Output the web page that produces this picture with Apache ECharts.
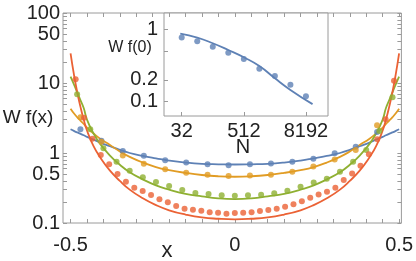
<!DOCTYPE html>
<html><head><meta charset="utf-8">
<script src="https://cdn.jsdelivr.net/npm/echarts@6/dist/echarts.min.js"></script>
<style>html,body{margin:0;padding:0;background:#fff}#c{width:416px;height:261px}</style>
</head><body><div id="c"></div>
<script>
// ---------- data ----------
const blueX   = [-0.470,-0.406,-0.341,-0.277,-0.212,-0.148,-0.083,-0.019,0.046,0.110,0.175,0.239,0.304,0.368,0.433];
const blueY   = [2.18,1.50,1.07,0.91,0.785,0.73,0.69,0.67,0.69,0.71,0.75,0.83,0.99,1.23,2.0];
const orangeX = [-0.470,-0.406,-0.341,-0.277,-0.212,-0.148,-0.083,-0.019,0.046,0.110,0.175,0.239,0.304,0.368,0.433];
const orangeY = [3.24,1.45,0.92,0.70,0.585,0.523,0.49,0.47,0.478,0.49,0.54,0.64,0.81,1.10,2.5];
const greenX  = [-0.48,-0.44,-0.40,-0.36,-0.32,-0.28,-0.24,-0.20,-0.16,-0.12,-0.08,-0.04,0,0.04,0.08,0.12,0.16,0.20,0.24,0.28,0.32,0.36,0.40,0.44,0.48];
const greenY  = [6.9,2.18,1.17,0.75,0.558,0.45,0.385,0.338,0.296,0.268,0.26,0.249,0.245,0.249,0.254,0.266,0.29,0.33,0.38,0.43,0.54,0.75,1.10,2.06,6.25];
const redX    = [-0.4845,-0.459,-0.4335,-0.408,-0.3825,-0.357,-0.3315,-0.306,-0.2805,-0.255,-0.2295,-0.204,-0.1785,-0.153,-0.1275,-0.102,-0.0765,-0.051,-0.0255,0,0.0255,0.051,0.0765,0.102,0.1275,0.153,0.1785,0.204,0.2295,0.255,0.2805,0.306,0.3315,0.357,0.3825,0.408,0.4335,0.459,0.4845];
const redY    = [11.3,3.2,1.6,0.94,0.69,0.50,0.39,0.32,0.287,0.251,0.218,0.198,0.175,0.16,0.155,0.15,0.143,0.14,0.136,0.139,0.14,0.143,0.148,0.153,0.16,0.17,0.185,0.205,0.23,0.255,0.28,0.32,0.41,0.51,0.66,0.96,1.57,3.03,10.8];

// theory curves
const curveX      = [-0.5,-0.49,-0.48,-0.47,-0.46,-0.45,-0.43,-0.41,-0.38,-0.35,-0.32,-0.28,-0.24,-0.2,-0.15,-0.1,-0.05,0,0.05,0.1,0.15,0.2,0.24,0.28,0.32,0.35,0.38,0.41,0.43,0.45,0.46,0.47,0.48,0.49,0.5];
const blueCurve   = [2.18,2.07,1.97,1.88,1.79,1.70,1.55,1.41,1.25,1.11,1.0,0.91,0.84,0.78,0.73,0.70,0.69,0.685,0.69,0.70,0.73,0.78,0.84,0.91,1.0,1.11,1.25,1.41,1.55,1.70,1.79,1.88,1.97,2.07,2.18];
const orangeCurve = [4.3,3.7,3.25,2.9,2.6,2.3,1.9,1.6,1.3,1.05,0.88,0.73,0.63,0.57,0.52,0.485,0.465,0.458,0.465,0.485,0.52,0.57,0.63,0.73,0.88,1.05,1.3,1.6,1.9,2.3,2.6,2.9,3.25,3.7,4.3];
const greenCurve  = [12.3,9.6,7.4,5.7,4.4,3.0,1.9,1.35,0.92,0.68,0.53,0.42,0.345,0.3,0.26,0.24,0.225,0.22,0.225,0.24,0.26,0.3,0.345,0.42,0.53,0.68,0.92,1.35,1.9,3.0,4.4,5.7,7.4,9.6,12.3];
const redCurve    = [26.6,13.5,7.5,4.6,3.0,2.1,1.25,0.87,0.56,0.4,0.3,0.225,0.18,0.152,0.132,0.12,0.115,0.113,0.115,0.12,0.132,0.152,0.18,0.225,0.3,0.4,0.56,0.87,1.25,2.1,3.0,4.6,7.5,13.5,26.6];

// inset: W f(0) versus N
const insetN      = [32,64,128,256,512,1024,2048,4096,8192];
const insetY      = [0.77,0.686,0.577,0.476,0.389,0.286,0.226,0.171,0.118];
const insetCurveN = [30,64,128,256,512,1024,2048,4096,11000];
const insetCurveY = [0.875,0.77,0.643,0.519,0.411,0.311,0.21,0.145,0.092];

// ticks
const xTickValues  = [-0.5,-0.45,-0.4,-0.35,-0.3,-0.25,-0.2,-0.15,-0.1,-0.05,0,0.05,0.1,0.15,0.2,0.25,0.3,0.35,0.4,0.45,0.5];
const xLabelValues = [-0.5,0,0.5];
const xLabelTexts  = ['-0.5','0','0.5'];
const yLabelValues = [0.1,0.5,1,10,50,100];
const yLabelTexts  = ['0.1','0.5','1','10','50','100'];
const yTickValues  = [0.1,0.2,0.3,0.4,0.5,0.6,0.7,0.8,0.9,1,2,3,4,5,6,7,8,9,10,20,30,40,50,60,70,80,90,100];
const inLabelN     = [32,512,8192];
const inLabelNText = ['32','512','8192'];
const inLabelY     = [0.1,0.2,1];
const inLabelYText = ['0.1','0.2','1'];
const inTickY      = [0.1,0.2,0.5,1];

// ---------- chart ----------
const C = {blue:'#5E81B5', orange:'#E19C24', green:'#8FB032', red:'#EB6235'};
const FONT = "'Liberation Sans', Arial, sans-serif";
const frame = '#9a9a9a';
const zip = (a,b)=>a.map((v,i)=>[v,b[i]]);
const lg = Math.log10, l2 = Math.log2;

const xMin=-0.523, xMax=0.507;
const inNMin=Math.pow(2,3.86), inNMax=Math.pow(2,14.42);
const inYMin=0.063, inYMax=1.69;

function labelFmt(vals, texts, tf){
  return v => { for (let i=0;i<vals.length;i++){ if (Math.abs(tf(vals[i])-v)<1e-6) return texts[i]; } return ''; };
}
const id = v=>v;
const noLine = {show:false, onZero:false};

const chart = echarts.init(document.getElementById('c'), null, {renderer:'canvas'});
chart.setOption({
  animation:false,
  backgroundColor:'#fff',
  grid:[
    {left:63, right:12, top:13, bottom:38, show:true, borderColor:frame, borderWidth:1, backgroundColor:'transparent'},
    {left:164, top:13, width:164, height:103, show:true, borderColor:frame, borderWidth:1, backgroundColor:'#fff'}
  ],
  xAxis:[
    {gridIndex:0, type:'value', position:'bottom', min:xMin, max:xMax, axisLine:noLine, splitLine:{show:false},
     axisTick:{show:true, inside:true, length:4, customValues:xTickValues, lineStyle:{color:frame}},
     axisLabel:{show:true, customValues:xLabelValues, formatter:labelFmt(xLabelValues,xLabelTexts,id), fontSize:20, fontFamily:FONT, color:'#222', margin:12}},
    {gridIndex:0, type:'value', position:'top', min:xMin, max:xMax, axisLine:noLine, splitLine:{show:false},
     axisTick:{show:true, inside:true, length:4, customValues:xTickValues, lineStyle:{color:frame}}, axisLabel:{show:false}},
    {gridIndex:1, type:'log', logBase:2, position:'top', min:inNMin, max:inNMax, axisLine:noLine, axisTick:{show:false}, axisLabel:{show:false}, splitLine:{show:false}},
    {gridIndex:1, type:'value', position:'bottom', min:3.86, max:14.42, axisLine:noLine, splitLine:{show:false},
     axisTick:{show:true, inside:true, length:4, customValues:inLabelN.map(l2), lineStyle:{color:frame}},
     axisLabel:{show:true, customValues:inLabelN.map(l2), formatter:labelFmt(inLabelN,inLabelNText,l2), fontSize:20, fontFamily:FONT, color:'#222', margin:5}}
  ],
  yAxis:[
    {gridIndex:0, type:'log', logBase:10, position:'right', min:0.1, max:100, axisLine:noLine, axisTick:{show:false}, axisLabel:{show:false}, splitLine:{show:false}},
    {gridIndex:0, type:'value', position:'left', min:-1, max:2, axisLine:noLine, splitLine:{show:false},
     axisTick:{show:true, inside:true, length:4, customValues:yTickValues.map(lg), lineStyle:{color:frame}},
     axisLabel:{show:true, customValues:yLabelValues.map(lg), formatter:labelFmt(yLabelValues,yLabelTexts,lg), fontSize:20, fontFamily:FONT, color:'#222', margin:3}},
    {gridIndex:0, type:'value', position:'right', min:-1, max:2, axisLine:noLine, splitLine:{show:false},
     axisTick:{show:true, inside:true, length:4, customValues:yTickValues.map(lg), lineStyle:{color:frame}}, axisLabel:{show:false}},
    {gridIndex:1, type:'log', logBase:10, position:'right', min:inYMin, max:inYMax, axisLine:noLine, axisTick:{show:false}, axisLabel:{show:false}, splitLine:{show:false}},
    {gridIndex:1, type:'value', position:'left', min:lg(inYMin), max:lg(inYMax), axisLine:noLine, splitLine:{show:false},
     axisTick:{show:true, inside:true, length:4, customValues:inTickY.map(lg), lineStyle:{color:frame}},
     axisLabel:{show:true, customValues:inLabelY.map(lg), formatter:labelFmt(inLabelY,inLabelYText,lg), fontSize:20, fontFamily:FONT, color:'#222', margin:6}}
  ],
  series:[
    {type:'line', xAxisIndex:0, yAxisIndex:0, data:zip(curveX,blueCurve), showSymbol:false, smooth:true, lineStyle:{color:C.blue,width:1.8}, z:3},
    {type:'line', xAxisIndex:0, yAxisIndex:0, data:zip(curveX,orangeCurve), showSymbol:false, smooth:true, lineStyle:{color:C.orange,width:1.8}, z:3},
    {type:'line', xAxisIndex:0, yAxisIndex:0, data:zip(curveX,greenCurve), showSymbol:false, smooth:true, lineStyle:{color:C.green,width:1.8}, z:3},
    {type:'line', xAxisIndex:0, yAxisIndex:0, data:zip(curveX,redCurve), showSymbol:false, smooth:true, lineStyle:{color:C.red,width:1.8}, z:3},
    {type:'scatter', xAxisIndex:0, yAxisIndex:0, data:zip(blueX,blueY), symbolSize:6, itemStyle:{color:C.blue}, z:4},
    {type:'scatter', xAxisIndex:0, yAxisIndex:0, data:zip(orangeX,orangeY), symbolSize:6, itemStyle:{color:C.orange}, z:4},
    {type:'scatter', xAxisIndex:0, yAxisIndex:0, data:zip(greenX,greenY), symbolSize:6, itemStyle:{color:C.green}, z:4},
    {type:'scatter', xAxisIndex:0, yAxisIndex:0, data:zip(redX,redY), symbolSize:6, itemStyle:{color:C.red}, z:4},
    {type:'line', xAxisIndex:2, yAxisIndex:3, data:zip(insetCurveN,insetCurveY), showSymbol:false, smooth:true, lineStyle:{color:C.blue,width:1.8}, z:5},
    {type:'scatter', xAxisIndex:2, yAxisIndex:3, data:zip(insetN,insetY), symbolSize:6, itemStyle:{color:C.blue}, z:6}
  ],
  graphic:[
    {type:'text', x:28, y:118, style:{text:'W f(x)', fontSize:19, fontFamily:FONT, fill:'#222', align:'center', verticalAlign:'middle'}},
    {type:'text', x:167, y:251, style:{text:'x', fontSize:22, fontFamily:FONT, fill:'#222', align:'center', verticalAlign:'middle'}},
    {type:'text', x:130, y:48, style:{text:'W f(0)', fontSize:16, fontFamily:FONT, fill:'#222', align:'center', verticalAlign:'middle'}},
    {type:'text', x:243, y:147, style:{text:'N', fontSize:20, fontFamily:FONT, fill:'#222', align:'center', verticalAlign:'middle'}}
  ]
});
</script></body></html>
